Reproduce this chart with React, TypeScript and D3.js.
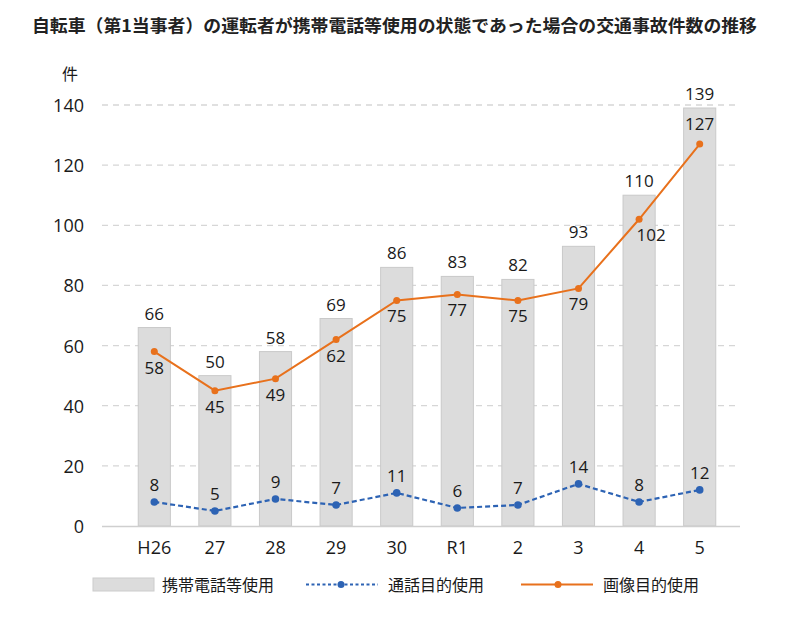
import React from "react";
import * as d3 from "d3";

const categories = ["H26", "27", "28", "29", "30", "R1", "2", "3", "4", "5"];
const totalUse = [66, 50, 58, 69, 86, 83, 82, 93, 110, 139];
const callUse = [8, 5, 9, 7, 11, 6, 7, 14, 8, 12];
const imageUse = [58, 45, 49, 62, 75, 77, 75, 79, 102, 127];
const yTicks = [0, 20, 40, 60, 80, 100, 120, 140];
const seriesNames = ["携帯電話等使用", "通話目的使用", "画像目的使用"];
const title = "自転車（第1当事者）の運転者が携帯電話等使用の状態であった場合の交通事故件数の推移";

const W = 800, H = 628;
const font = "'Open Sans', 'Noto Sans CJK JP', sans-serif";
const jpFont = "'Noto Sans CJK JP', sans-serif";
const ORANGE = "#e8711c";
const BLUE = "#2d63b4";
const TEXT = "#1a1a1a";

export default function App() {
  const x = d3.scaleBand<string>().domain(categories).range([124, 730]).paddingInner(0.47).paddingOuter(0.235);
  const y = d3.scaleLinear().domain([0, 140]).range([526, 105]);
  const cx = (c: string) => (x(c) as number) + x.bandwidth() / 2;
  const line = d3.line<number>().x((_, i) => cx(categories[i])).y((d) => y(d));

  return (
    <svg width={W} height={H} style={{ position: "absolute", left: 0, top: 0, background: "#fff" }}>
      <text x={32} y={32} fontFamily={jpFont} fontWeight={700} fontSize={17.5} fill="#222" textLength={725} lengthAdjust="spacingAndGlyphs">{title}</text>
      <text x={70} y={80} fontFamily={jpFont} fontSize={16} textAnchor="middle" fill={TEXT}>件</text>
      {yTicks.map((t) => (
        <g key={t}>
          {t > 0 && <line x1={102} x2={740} y1={y(t)} y2={y(t)} stroke="#d6d6d6" strokeDasharray="6,5" strokeWidth={1.3} />}
          <text x={84} y={y(t) + 7} textAnchor="end" fontFamily={font} fontSize={18} fill={TEXT}>{t}</text>
        </g>
      ))}
      {categories.map((c, i) => (
        <rect key={c} x={x(c)} y={y(totalUse[i])} width={x.bandwidth()} height={y(0) - y(totalUse[i])} fill="#dcdcdc" stroke="#c9c9c9" strokeWidth={1} />
      ))}
      <line x1={102} x2={740} y1={y(0) + 0.5} y2={y(0) + 0.5} stroke="#cfcfcf" strokeWidth={1.5} />
      {categories.map((c) => (
        <text key={c} x={cx(c)} y={554} textAnchor="middle" fontFamily={font} fontSize={18} fill={TEXT}>{c}</text>
      ))}
      {categories.map((c, i) => (
        <text key={c} x={cx(c)} y={y(totalUse[i]) - 8} textAnchor="middle" fontFamily={font} fontSize={17} fill={TEXT}>{totalUse[i]}</text>
      ))}
      <path d={line(imageUse) || ""} fill="none" stroke={ORANGE} strokeWidth={2} />
      {categories.map((c, i) => (
        <g key={c}>
          <circle cx={cx(c)} cy={y(imageUse[i])} r={3.5} fill={ORANGE} />
          <text x={cx(c) + (i === 8 ? 12 : 0)} y={i === 9 ? y(imageUse[i]) - 14 : y(imageUse[i]) + 22} textAnchor="middle" fontFamily={font} fontSize={17} fill={TEXT}>{imageUse[i]}</text>
        </g>
      ))}
      <path d={line(callUse) || ""} fill="none" stroke={BLUE} strokeWidth={2.2} strokeDasharray="5,3" />
      {categories.map((c, i) => (
        <g key={c}>
          <circle cx={cx(c)} cy={y(callUse[i])} r={3.8} fill={BLUE} />
          <text x={cx(c)} y={y(callUse[i]) - 11} textAnchor="middle" fontFamily={font} fontSize={17} fill={TEXT}>{callUse[i]}</text>
        </g>
      ))}
      <g fontFamily={jpFont} fontSize={16} fill={TEXT}>
        <rect x={93} y={578} width={61} height={13} fill="#dcdcdc" stroke="#cccccc" />
        <text x={162} y={591}>{seriesNames[0]}</text>
        <line x1={306} x2={378} y1={584.5} y2={584.5} stroke={BLUE} strokeWidth={2} strokeDasharray="3,2.5" />
        <circle cx={341} cy={584.5} r={3.5} fill={BLUE} />
        <text x={388} y={591}>{seriesNames[1]}</text>
        <line x1={521} x2={593} y1={584.5} y2={584.5} stroke={ORANGE} strokeWidth={2} />
        <circle cx={558} cy={584.5} r={3.5} fill={ORANGE} />
        <text x={603} y={591}>{seriesNames[2]}</text>
      </g>
    </svg>
  );
}
